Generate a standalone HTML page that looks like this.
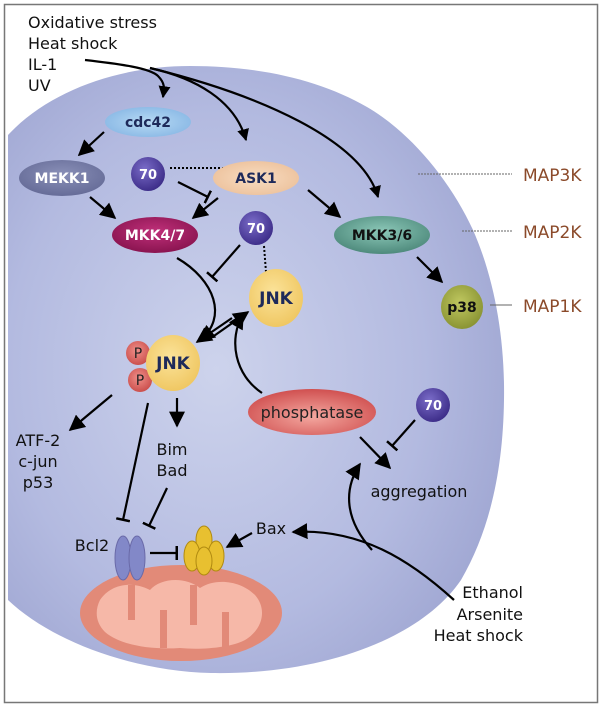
<!DOCTYPE html>
<html><head><meta charset="utf-8"><style>
html,body{margin:0;padding:0;background:#fff;}
svg{display:block;}
text{font-family:"DejaVu Sans","Liberation Sans",sans-serif;}
</style></head><body>
<svg width="600" height="707" viewBox="0 0 600 707" xmlns="http://www.w3.org/2000/svg">
<defs>
<radialGradient id="cell" cx="0.42" cy="0.5" r="0.6">
<stop offset="0" stop-color="#cdd3ec"/><stop offset="0.7" stop-color="#b3bae0"/><stop offset="1" stop-color="#a2a9d4"/></radialGradient>
<radialGradient id="g70" cx="0.4" cy="0.35" r="0.7"><stop offset="0" stop-color="#7a6cc8"/><stop offset="1" stop-color="#3a2a86"/></radialGradient>
<radialGradient id="gjnk" cx="0.45" cy="0.4" r="0.7"><stop offset="0" stop-color="#fbe39a"/><stop offset="1" stop-color="#eec35a"/></radialGradient>
<radialGradient id="gcdc" cx="0.5" cy="0.5" r="0.6"><stop offset="0" stop-color="#b8daf4"/><stop offset="1" stop-color="#86b6e4"/></radialGradient>
<radialGradient id="gask" cx="0.5" cy="0.5" r="0.6"><stop offset="0" stop-color="#f8ddc2"/><stop offset="1" stop-color="#ecc09a"/></radialGradient>
<radialGradient id="gmekk" cx="0.5" cy="0.4" r="0.6"><stop offset="0" stop-color="#8a90b8"/><stop offset="1" stop-color="#666c98"/></radialGradient>
<radialGradient id="gmkk47" cx="0.5" cy="0.4" r="0.6"><stop offset="0" stop-color="#c0307a"/><stop offset="1" stop-color="#8a1450"/></radialGradient>
<radialGradient id="gmkk36" cx="0.5" cy="0.4" r="0.6"><stop offset="0" stop-color="#8cc8b8"/><stop offset="1" stop-color="#4e8a7c"/></radialGradient>
<radialGradient id="gp38" cx="0.45" cy="0.4" r="0.65"><stop offset="0" stop-color="#c0c860"/><stop offset="1" stop-color="#869030"/></radialGradient>
<radialGradient id="gphos" cx="0.5" cy="0.6" r="0.6"><stop offset="0" stop-color="#f4a8a0"/><stop offset="1" stop-color="#d05050"/></radialGradient>
<radialGradient id="gp" cx="0.45" cy="0.4" r="0.65"><stop offset="0" stop-color="#f0908a"/><stop offset="1" stop-color="#c84a48"/></radialGradient>
<marker id="ah" viewBox="0 0 10 10" refX="9" refY="5" markerWidth="16" markerHeight="16" markerUnits="userSpaceOnUse" orient="auto"><path d="M0,0 L10,5 L0,10 Z" fill="#000"/></marker>
<marker id="ahs" viewBox="0 0 10 10" refX="9" refY="5" markerWidth="12" markerHeight="12" markerUnits="userSpaceOnUse" orient="auto"><path d="M0,0 L10,5 L0,10 Z" fill="#000"/></marker>
<marker id="tb" viewBox="0 0 4 14" refX="2" refY="7" markerWidth="4" markerHeight="14" markerUnits="userSpaceOnUse" orient="auto"><rect x="0.5" y="0" width="2.5" height="14" fill="#000"/></marker>
</defs>
<rect x="4.5" y="4.5" width="593" height="698" fill="#fff" stroke="#777" stroke-width="1.5"/>
<path d="M8,135 C50,90 120,66 190,66 C260,66 320,80 367,107 C410,132 450,180 473,230 C495,280 505,340 504,400 C503,470 490,530 461,580 C420,640 320,675 211,673 C130,671 50,640 8,600 Z" fill="url(#cell)"/>

<g stroke="#666" stroke-width="1" stroke-dasharray="2,1">
<line x1="418" y1="174" x2="512" y2="174"/><line x1="462" y1="231" x2="512" y2="231"/></g>
<line x1="490" y1="305" x2="512" y2="305" stroke="#666" stroke-width="1"/>
<g fill="#8b4a2a" font-size="17"><text x="523" y="181">MAP3K</text><text x="523" y="238">MAP2K</text><text x="523" y="312">MAP1K</text></g>

<g font-size="16" fill="#111"><text x="28" y="28">Oxidative stress</text><text x="28" y="49">Heat shock</text><text x="28" y="70">IL-1</text><text x="28" y="91">UV</text></g>

<g fill="none" stroke="#000" stroke-width="2.2">
<path d="M85,60 C120,64 150,68 158,76 C166,84 164,90 163,97" marker-end="url(#ahs)"/>
<path d="M150,68 C195,78 235,100 246,140" marker-end="url(#ahs)"/>
<path d="M150,68 C260,95 362,140 378,197" marker-end="url(#ahs)"/>
<line x1="104" y1="132" x2="79" y2="155" marker-end="url(#ah)"/>
<line x1="90" y1="197" x2="115" y2="218" marker-end="url(#ah)"/>
<line x1="178" y1="182" x2="208" y2="197" marker-end="url(#tb)"/>
<line x1="218" y1="198" x2="193" y2="218" marker-end="url(#ah)"/>
<line x1="308" y1="190" x2="340" y2="217" marker-end="url(#ah)"/>
<line x1="417" y1="257" x2="442" y2="282" marker-end="url(#ah)"/>
<line x1="240" y1="245" x2="212" y2="277" marker-end="url(#tb)"/>
<path d="M177,258 C215,280 228,318 200,340" marker-end="url(#ah)"/>
<line x1="232" y1="318" x2="197" y2="342" marker-end="url(#ah)"/>
<line x1="211" y1="338" x2="248" y2="312" marker-end="url(#ah)"/>
<path d="M262,393 C235,375 228,340 243,314" marker-end="url(#ah)"/>
<line x1="112" y1="395" x2="70" y2="430" marker-end="url(#ah)"/>
<line x1="177" y1="398" x2="177" y2="426" marker-end="url(#ah)"/>
<line x1="148" y1="403" x2="123" y2="520" marker-end="url(#tb)"/>
<line x1="167" y1="488" x2="149" y2="526" marker-end="url(#tb)"/>
<line x1="150" y1="553" x2="177" y2="553" marker-end="url(#tb)"/>
<line x1="252" y1="533" x2="227" y2="547" marker-end="url(#ah)"/>
<path d="M454,600 C410,560 360,528 293,532" marker-end="url(#ah)"/>
<path d="M372,550 C345,520 343,490 360,464" marker-end="url(#ah)"/>
<line x1="360" y1="437" x2="390" y2="468" marker-end="url(#ah)"/>
<line x1="415" y1="420" x2="392" y2="446" marker-end="url(#tb)"/>
</g>
<g stroke="#000" stroke-width="2" stroke-dasharray="2,2">
<line x1="170" y1="168" x2="224" y2="168"/><line x1="264" y1="246" x2="266" y2="272"/></g>

<ellipse cx="148" cy="122" rx="43" ry="15" fill="url(#gcdc)"/>
<text x="148" y="127" font-size="14" font-weight="bold" fill="#1e2a5a" text-anchor="middle">cdc42</text>
<ellipse cx="62" cy="178" rx="43" ry="18" fill="url(#gmekk)"/>
<text x="62" y="183" font-size="14" font-weight="bold" fill="#fff" text-anchor="middle">MEKK1</text>
<ellipse cx="256" cy="178" rx="43" ry="17" fill="url(#gask)"/>
<text x="256" y="183" font-size="14" font-weight="bold" fill="#1e2a5a" text-anchor="middle">ASK1</text>
<ellipse cx="155" cy="235" rx="43" ry="18" fill="url(#gmkk47)"/>
<text x="155" y="240" font-size="14" font-weight="bold" fill="#fff" text-anchor="middle">MKK4/7</text>
<ellipse cx="382" cy="235" rx="48" ry="19" fill="url(#gmkk36)"/>
<text x="382" y="240" font-size="14" font-weight="bold" fill="#111" text-anchor="middle">MKK3/6</text>
<ellipse cx="462" cy="307" rx="21" ry="22" fill="url(#gp38)"/>
<text x="462" y="312" font-size="14" font-weight="bold" fill="#111" text-anchor="middle">p38</text>
<ellipse cx="276" cy="298" rx="27" ry="29" fill="url(#gjnk)"/>
<text x="276" y="304" font-size="17" font-weight="bold" fill="#1e2a5a" text-anchor="middle">JNK</text>
<circle cx="138" cy="353" r="12" fill="url(#gp)"/><circle cx="140" cy="380" r="12" fill="url(#gp)"/>
<text x="138" y="358" font-size="14" fill="#222" text-anchor="middle">P</text><text x="140" y="385" font-size="14" fill="#222" text-anchor="middle">P</text>
<ellipse cx="173" cy="363" rx="27" ry="28" fill="url(#gjnk)"/>
<text x="173" y="369" font-size="17" font-weight="bold" fill="#1e2a5a" text-anchor="middle">JNK</text>
<g font-size="13" font-weight="bold" fill="#fff" text-anchor="middle">
<circle cx="148" cy="174" r="17" fill="url(#g70)"/><text x="148" y="179">70</text>
<circle cx="256" cy="228" r="17" fill="url(#g70)"/><text x="256" y="233">70</text>
<circle cx="433" cy="405" r="17" fill="url(#g70)"/><text x="433" y="410">70</text></g>
<ellipse cx="312" cy="412" rx="64" ry="23" fill="url(#gphos)"/>
<text x="312" y="418" font-size="16" fill="#222" text-anchor="middle">phosphatase</text>

<g font-size="16" fill="#111" text-anchor="middle">
<text x="38" y="446">ATF-2</text><text x="38" y="467">c-jun</text><text x="38" y="488">p53</text>
<text x="172" y="455">Bim</text><text x="172" y="476">Bad</text>
<text x="419" y="497">aggregation</text><text x="271" y="534">Bax</text><text x="92" y="551">Bcl2</text></g>
<g font-size="16" fill="#111" text-anchor="end"><text x="523" y="598">Ethanol</text><text x="523" y="620">Arsenite</text><text x="523" y="641">Heat shock</text></g>

<ellipse cx="181" cy="613" rx="101" ry="48" fill="#e28a78"/>
<path d="M100,600 C110,585 130,580 150,590 C160,578 185,576 200,588 C215,578 240,580 255,595 C268,610 262,630 245,640 C230,648 200,650 180,648 C150,650 120,645 105,632 C95,622 95,610 100,600 Z" fill="#f6b8a8"/>
<g fill="#e28a78"><rect x="128" y="585" width="7" height="35"/><rect x="160" y="610" width="7" height="38"/><rect x="190" y="585" width="7" height="40"/><rect x="222" y="612" width="7" height="36"/></g>
<g stroke="#6a6aa8" stroke-width="1"><ellipse cx="123" cy="558" rx="8" ry="22" fill="#8288c8"/><ellipse cx="137" cy="558" rx="8" ry="22" fill="#8288c8"/></g>
<g stroke="#b08a10" stroke-width="1" fill="#e8c030"><ellipse cx="204" cy="540" rx="8" ry="14"/><ellipse cx="192" cy="556" rx="8" ry="15"/><ellipse cx="216" cy="556" rx="8" ry="15"/><ellipse cx="204" cy="561" rx="8" ry="14"/></g>
</svg>
</body></html>
